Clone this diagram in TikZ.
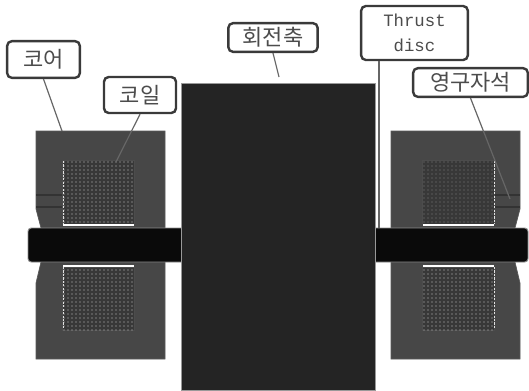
\documentclass[tikz,border=0pt]{standalone}
\usepackage{fontspec}
\setmainfont{Noto Sans CJK KR}
\newfontfamily\monofam{Liberation Mono}
\usetikzlibrary{patterns}
\definecolor{coreC}{HTML}{474747}
\definecolor{shaftC}{HTML}{242424}
\definecolor{discC}{HTML}{0A0A0A}
\definecolor{coilC}{HTML}{383838}
\definecolor{leadC}{HTML}{666666}
\definecolor{boxC}{HTML}{3A3A3A}
\tikzset{
  px/.style={x=0.75pt,y=-0.75pt},
  lab/.style={draw=boxC,line width=1.8pt,rounded corners=3.5pt,fill=white,inner sep=0pt,align=center,text=black!70,font=\fontsize{16.5}{18}\selectfont},
  lead/.style={draw=leadC,line width=0.9pt},
  core/.style={fill=coreC,draw=black!65,line width=0.5pt},
  coil/.style={fill=coilC,draw=black!70,line width=0.5pt},
  dotsL/.style={pattern=dots,pattern color=black!22},
  dotsD/.style={pattern=dots,pattern color=black!50},
  gapw/.style={fill=white,draw=none},
  disc/.style={fill=discC,draw=black!45,line width=0.7pt,rounded corners=2.5pt},
  edgew/.style={draw=black!12,line width=0.7pt,dash pattern=on 1.6pt off 1pt},
  magline/.style={draw=black!80,line width=0.8pt},
}
\begin{document}
\begin{tikzpicture}[px]
\useasboundingbox (0,0) rectangle (529,390);
% cores
\draw[core] (36,131) -- (165,131) -- (165,359) -- (36,359) -- (36,283) -- (41,262) -- (41,228) -- (36,209) -- cycle;
\draw[core] (391,131) -- (520,131) -- (520,209) -- (515,228) -- (515,262) -- (520,283) -- (520,359) -- (391,359) -- cycle;
\draw[magline] (36,195) -- (62,195) (36,207) -- (62,207);
\draw[magline] (494,195) -- (520,195) (494,207) -- (520,207);
% coils
\draw[coil] (62,160) rectangle (134,224);
\fill[dotsL] (62,160) rectangle (134,224);
\draw[coil] (62,267) rectangle (134,330);
\fill[dotsL] (62,267) rectangle (134,330);
\draw[coil] (422,160) rectangle (494,224);
\fill[dotsD] (422,160) rectangle (494,224);
\draw[coil] (422,267) rectangle (494,330);
\fill[dotsL] (422,267) rectangle (494,330);
\fill[gapw] (62.5,224) rectangle (134,226);
\fill[gapw] (62.5,264.5) rectangle (134,267);
\fill[gapw] (423,224) rectangle (494,226);
\fill[gapw] (423,264.5) rectangle (494,267);
\draw[edgew] (63,161) -- (63,224);
\draw[edgew] (63,267) -- (63,329);
\draw[edgew] (494,161) -- (494,224);
\draw[edgew] (494,267) -- (494,329);
% disc and shaft
\draw[disc] (200,228) -- (28,228) -- (28,262) -- (200,262);
\draw[disc] (360,228) -- (528,228) -- (528,262) -- (360,262);
\coordinate (tdEnd) at (379,228);
\coordinate (shaftTip) at (279,77);
\coordinate (coreTip) at (62,131);
\coordinate (coilTip) at (116,162);
\coordinate (magTip) at (510,199);
\draw[fill=shaftC,draw=black!40,line width=0.6pt] (181,83) rectangle (375,390);
% labels
\node[lab,minimum width=54.5pt,minimum height=27.5pt] (lc) at (43.5,59.5) {코어};
\node[lab,minimum width=54pt,minimum height=27pt] (lk) at (140,95) {코일};
\node[lab,minimum width=67pt,minimum height=21.5pt] (ls) at (273,37.5) {회전축};
\node[lab,minimum width=80pt,minimum height=40.5pt,font=\monofam\fontsize{13}{18.5}\selectfont] (lt) at (414.5,33) {Thrust\\disc};
\node[lab,minimum width=86pt,minimum height=21.5pt] (lm) at (470.5,82.5) {영구자석};
% leaders
\draw[lead] (lc.south) -- (coreTip);
\draw[lead] (lk.south) -- (coilTip);
\draw[lead] (ls.south) -- (shaftTip);
\draw[lead] (lt.south -| tdEnd) -- (tdEnd);
\draw[lead] (lm.south) -- (magTip);
\end{tikzpicture}
\end{document}
